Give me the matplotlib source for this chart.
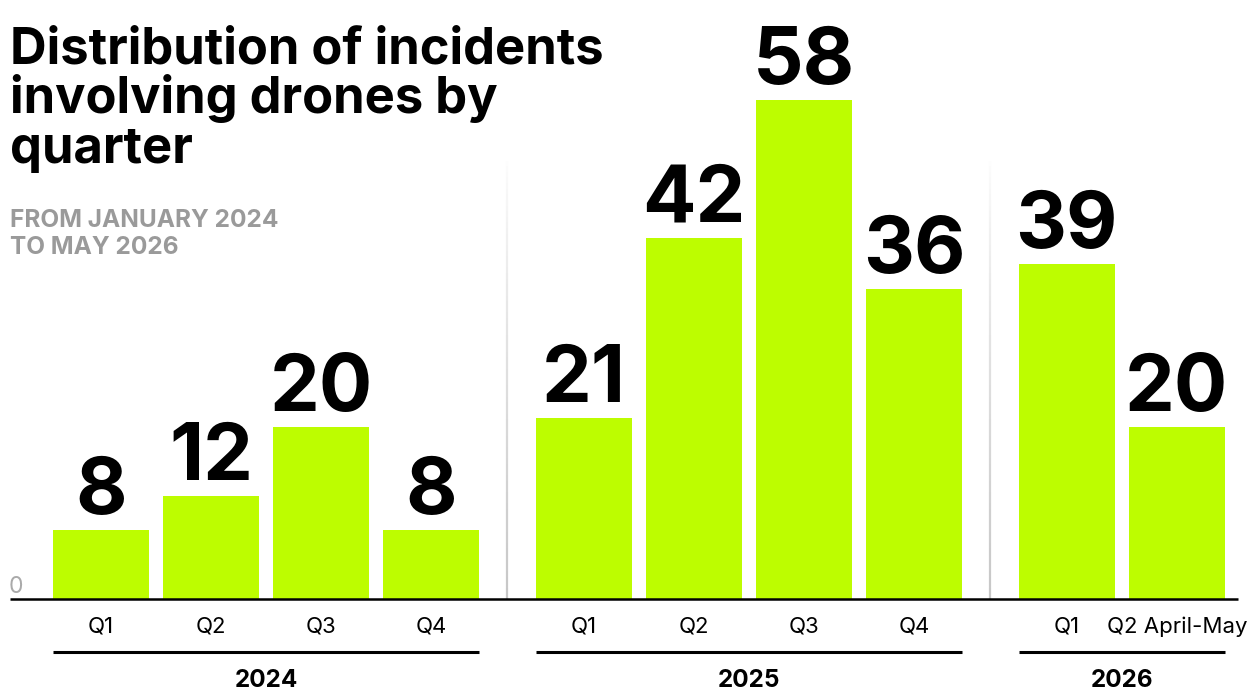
import numpy as np
import matplotlib
matplotlib.use("Agg")
import matplotlib.pyplot as plt
from matplotlib.collections import LineCollection
from matplotlib.transforms import blended_transform_factory

# ---- data ----
years = ["2024", "2025", "2026"]
quarters_2024 = ["Q1", "Q2", "Q3", "Q4"]
quarters_2025 = ["Q1", "Q2", "Q3", "Q4"]
quarters_2026 = ["Q1", "Q2 April-May"]
values_2024 = [8, 12, 20, 8]
values_2025 = [21, 42, 58, 36]
values_2026 = [39, 20]

title = "Distribution of incidents\ninvolving drones by\nquarter"
subtitle = "FROM JANUARY 2024\nTO MAY 2026"

# ---- style ----
W, H = 1256, 691
DPI = 100
BAR_COLOR = "#bdfd00"
FONT = ["Inter", "DejaVu Sans"]
GAP = 0.39
BAR_W = 0.87
PX_PER_UNIT = 8.6
BASE_PX = 599          # baseline y (from top) in pixels
X0_PX = 101            # centre of first bar in px
STEP_PX = 110          # px per category step

plt.rcParams["font.family"] = FONT

fig = plt.figure(figsize=(W / DPI, H / DPI), dpi=DPI)
ax = fig.add_axes([0, (H - BASE_PX) / H, 1, BASE_PX / H])
ax.set_xlim(-X0_PX / STEP_PX, (W - X0_PX) / STEP_PX)
ax.set_ylim(0, BASE_PX / PX_PER_UNIT)
ax.axis("off")

groups = [(years[0], quarters_2024, values_2024),
          (years[1], quarters_2025, values_2025),
          (years[2], quarters_2026, values_2026)]

fy = lambda px: 1 - px / H   # pixel-from-top -> figure fraction
trans_xf = blended_transform_factory(ax.transData, fig.transFigure)

idx = 0
group_pos = []
for g, (yr, qs, vals) in enumerate(groups):
    pos = np.arange(idx, idx + len(vals)) + g * GAP
    idx += len(vals)
    group_pos.append(pos)
    ax.bar(pos, vals, width=BAR_W, color=BAR_COLOR, linewidth=0, zorder=2)
    for p, v, q in zip(pos, vals, qs):
        ax.annotate(str(v), (p, v), xytext=(0, 11.5), textcoords="offset points",
                    ha="center", va="baseline", fontsize=57, fontweight="bold",
                    color="black", zorder=3)
        ax.text(p, fy(633), q, transform=trans_xf, ha="center", va="baseline",
                fontsize=16, color="black")
    # group underline
    ax.plot([pos[0] - BAR_W / 2, pos[-1] + BAR_W / 2], [fy(652), fy(652)],
            transform=trans_xf, color="black", lw=2.2, clip_on=False,
            solid_capstyle="butt")
    ax.text((pos[0] + pos[-1]) / 2, fy(687), yr, transform=trans_xf,
            ha="center", va="baseline", fontsize=17.5, fontweight="bold",
            color="black")

# separators with vertical fade
sep_top = (BASE_PX - 155) / PX_PER_UNIT
for a, b in zip(group_pos[:-1], group_pos[1:]):
    xs = (a[-1] + b[0]) / 2
    ys = np.linspace(0, sep_top, 80)
    segs = [[(xs, ys[i]), (xs, ys[i + 1])] for i in range(len(ys) - 1)]
    alphas = np.linspace(1, 0, len(segs)) ** 0.8
    cols = [(0.78, 0.78, 0.78, al) for al in alphas]
    ax.add_collection(LineCollection(segs, colors=cols, linewidths=1.6, zorder=1))

# baseline
first_left = group_pos[0][0] - BAR_W / 2
last_right = group_pos[-1][-1] + BAR_W / 2
ax.plot([first_left - 0.39, last_right + 0.12], [0, 0], color="black", lw=1.8,
        zorder=4, clip_on=False, solid_capstyle="butt")

# zero label
fig.text(9 / W, fy(593), "0", ha="left", va="baseline", fontsize=16.5,
         color="#aaaaaa", fontweight="normal")

# title and subtitle
for i, line in enumerate(title.split("\n")):
    fig.text(10 / W, fy(63 + 50 * i), line, ha="left", va="baseline",
             fontsize=36.5, fontweight="bold", color="black")
for i, line in enumerate(subtitle.split("\n")):
    fig.text(10 / W, fy(227 + 27 * i), line, ha="left", va="baseline",
             fontsize=17.6, fontweight="bold", color="#9a9a9a")

fig.savefig("out.png", dpi=DPI)
